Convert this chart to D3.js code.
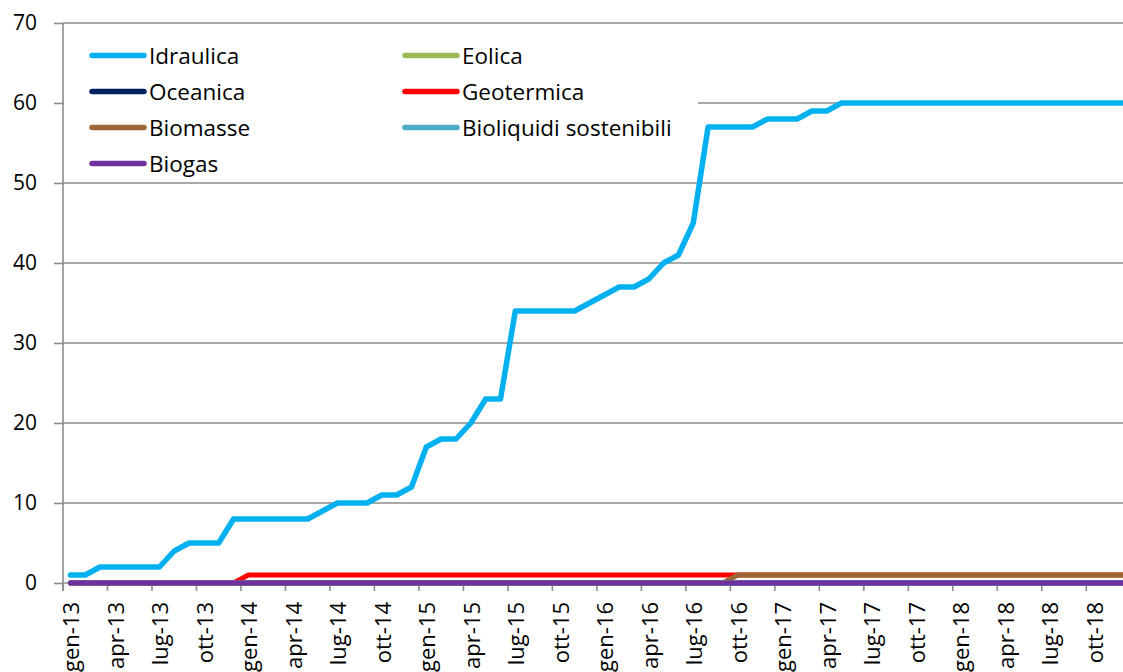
<!DOCTYPE html>
<html>
<head>
<meta charset="utf-8">
<script src="https://cdn.jsdelivr.net/npm/d3@7"></script>
<style>
  html, body { margin: 0; padding: 0; background: #fff; overflow: hidden; }
  svg { display: block; font-family: "Open Sans", sans-serif; }
</style>
</head>
<body>
<div class="line_chart"></div>
<script>
// month labels, one per category (gen-13 .. dic-18)
const months = [
  "gen-13","feb-13","mar-13","apr-13","mag-13","giu-13","lug-13","ago-13","set-13","ott-13","nov-13","dic-13",
  "gen-14","feb-14","mar-14","apr-14","mag-14","giu-14","lug-14","ago-14","set-14","ott-14","nov-14","dic-14",
  "gen-15","feb-15","mar-15","apr-15","mag-15","giu-15","lug-15","ago-15","set-15","ott-15","nov-15","dic-15",
  "gen-16","feb-16","mar-16","apr-16","mag-16","giu-16","lug-16","ago-16","set-16","ott-16","nov-16","dic-16",
  "gen-17","feb-17","mar-17","apr-17","mag-17","giu-17","lug-17","ago-17","set-17","ott-17","nov-17","dic-17",
  "gen-18","feb-18","mar-18","apr-18","mag-18","giu-18","lug-18","ago-18","set-18","ott-18","nov-18","dic-18"
];

const idraulica = [
  1, 1, 2, 2, 2, 2, 2, 4, 5, 5, 5, 8,
  8, 8, 8, 8, 8, 9, 10, 10, 10, 11, 11, 12,
  17, 18, 18, 20, 23, 23, 34, 34, 34, 34, 34, 35,
  36, 37, 37, 38, 40, 41, 45, 57, 57, 57, 57, 58,
  58, 58, 59, 59, 60, 60, 60, 60, 60, 60, 60, 60,
  60, 60, 60, 60, 60, 60, 60, 60, 60, 60, 60, 60
];
const eolica = [
  0,0,0,0,0,0,0,0,0,0,0,0, 0,0,0,0,0,0,0,0,0,0,0,0, 0,0,0,0,0,0,0,0,0,0,0,0,
  0,0,0,0,0,0,0,0,0,0,0,0, 0,0,0,0,0,0,0,0,0,0,0,0, 0,0,0,0,0,0,0,0,0,0,0,0
];
const oceanica = [
  0,0,0,0,0,0,0,0,0,0,0,0, 0,0,0,0,0,0,0,0,0,0,0,0, 0,0,0,0,0,0,0,0,0,0,0,0,
  0,0,0,0,0,0,0,0,0,0,0,0, 0,0,0,0,0,0,0,0,0,0,0,0, 0,0,0,0,0,0,0,0,0,0,0,0
];
const geotermica = [
  0,0,0,0,0,0,0,0,0,0,0,0, 1,1,1,1,1,1,1,1,1,1,1,1, 1,1,1,1,1,1,1,1,1,1,1,1,
  1,1,1,1,1,1,1,1,1,1,1,1, 1,1,1,1,1,1,1,1,1,1,1,1, 1,1,1,1,1,1,1,1,1,1,1,1
];
const biomasse = [
  0,0,0,0,0,0,0,0,0,0,0,0, 0,0,0,0,0,0,0,0,0,0,0,0, 0,0,0,0,0,0,0,0,0,0,0,0,
  0,0,0,0,0,0,0,0,0,1,1,1, 1,1,1,1,1,1,1,1,1,1,1,1, 1,1,1,1,1,1,1,1,1,1,1,1
];
const bioliquidi = [
  0,0,0,0,0,0,0,0,0,0,0,0, 0,0,0,0,0,0,0,0,0,0,0,0, 0,0,0,0,0,0,0,0,0,0,0,0,
  0,0,0,0,0,0,0,0,0,0,0,0, 0,0,0,0,0,0,0,0,0,0,0,0, 0,0,0,0,0,0,0,0,0,0,0,0
];
const biogas = [
  0,0,0,0,0,0,0,0,0,0,0,0, 0,0,0,0,0,0,0,0,0,0,0,0, 0,0,0,0,0,0,0,0,0,0,0,0,
  0,0,0,0,0,0,0,0,0,0,0,0, 0,0,0,0,0,0,0,0,0,0,0,0, 0,0,0,0,0,0,0,0,0,0,0,0
];

const seriesNames = ["Idraulica", "Eolica", "Oceanica", "Geotermica", "Biomasse", "Bioliquidi sostenibili", "Biogas"];
const seriesValues = [idraulica, eolica, oceanica, geotermica, biomasse, bioliquidi, biogas];
const yTicks = [0, 10, 20, 30, 40, 50, 60, 70];

const colors = ["#00B0F0", "#9BBB59", "#002060", "#FF0000", "#9C6635", "#4BACC6", "#7030A0"];

const width = 1123, height = 672;
const plotLeft = 63, step = 14.83;

const svg = d3.select(".line_chart")
  .append("svg")
  .attr("width", width)
  .attr("height", height);

const x = d3.scaleBand()
  .domain(months)
  .range([plotLeft, plotLeft + step * months.length])
  .paddingInner(0)
  .paddingOuter(0);

const y = d3.scaleLinear()
  .domain([0, 70])
  .range([583, 23]);

const cx = (m) => x(m) + x.bandwidth() / 2;

// horizontal gridlines
svg.append("g")
  .selectAll("line")
  .data(yTicks)
  .join("line")
  .attr("x1", plotLeft)
  .attr("x2", x.range()[1])
  .attr("y1", (d) => y(d))
  .attr("y2", (d) => y(d))
  .attr("stroke", "#8c8c8c")
  .attr("stroke-width", 1.6);

// y axis
const yAxis = svg.append("g")
  .attr("transform", "translate(" + plotLeft + ",0)")
  .call(d3.axisLeft(y).tickValues(yTicks).tickSize(9).tickPadding(17).tickSizeOuter(0));
yAxis.select(".domain").attr("stroke", "#8c8c8c").attr("stroke-width", 1.6)
  .attr("d", "M0," + y(70) + "V591");
yAxis.selectAll(".tick line").attr("stroke", "#8c8c8c").attr("stroke-width", 1.6);
yAxis.selectAll(".tick text")
  .attr("fill", "#000")
  .style("font-size", "21px")
  .style("font-family", "'Open Sans', sans-serif");

// x axis: ticks on category boundaries every 3 months, labels in the middle
const tickMonths = months.filter((d, i) => i % 3 === 0);
const xAxis = svg.append("g");
xAxis.selectAll("line")
  .data(tickMonths)
  .join("line")
  .attr("x1", (d) => x(d))
  .attr("x2", (d) => x(d))
  .attr("y1", y(0))
  .attr("y2", 591)
  .attr("stroke", "#8c8c8c")
  .attr("stroke-width", 1.6);
xAxis.selectAll("text")
  .data(tickMonths)
  .join("text")
  .attr("transform", (d) => "translate(" + (cx(d) + 1) + ",602) rotate(-90)")
  .attr("text-anchor", "end")
  .attr("dy", "0.36em")
  .attr("fill", "#000")
  .style("font-size", "22px")
  .text((d) => d);

// legend background hides the gridlines behind it
svg.append("rect")
  .attr("x", plotLeft + 1)
  .attr("y", 28)
  .attr("width", 634)
  .attr("height", 150)
  .attr("fill", "#fff");

// series lines
const line = d3.line()
  .x((d, i) => cx(months[i]))
  .y((d) => y(d));

svg.append("g")
  .selectAll("path")
  .data(seriesValues)
  .join("path")
  .attr("d", (d) => line(d))
  .attr("fill", "none")
  .attr("stroke", (d, i) => colors[i])
  .attr("stroke-width", (d, i) => (i === 0 ? 5.5 : 5))
  .attr("stroke-linejoin", "round")
  .attr("stroke-linecap", "round");

// legend: two columns
const legend = svg.append("g")
  .selectAll("g")
  .data(seriesNames)
  .join("g")
  .attr("transform", (d, i) => "translate(" + (i % 2 === 0 ? 92 : 405) + "," + (55.5 + Math.floor(i / 2) * 36) + ")");

legend.append("line")
  .attr("x1", 0)
  .attr("x2", 52)
  .attr("stroke", (d, i) => colors[i])
  .attr("stroke-width", 5.5)
  .attr("stroke-linecap", "round");

legend.append("text")
  .attr("x", 57)
  .attr("dy", "0.36em")
  .attr("fill", "#000")
  .style("font-size", "22.5px")
  .text((d) => d);
</script>
</body>
</html>
